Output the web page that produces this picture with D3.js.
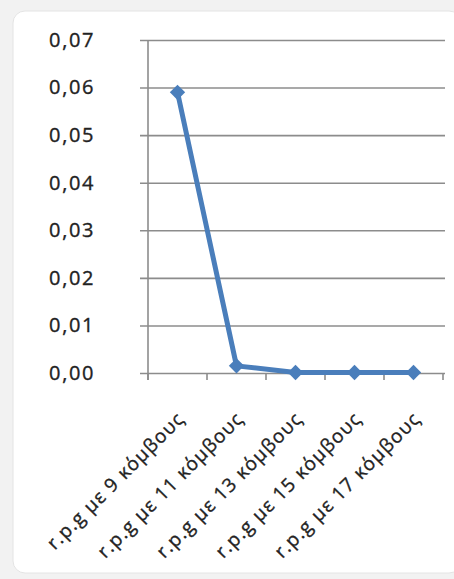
<!DOCTYPE html>
<html>
<head>
<meta charset="utf-8">
<script src="https://cdn.jsdelivr.net/npm/d3@7"></script>
<style>
  html, body { margin: 0; padding: 0; background: #f2f2f2; }
  svg { display: block; }
</style>
</head>
<body>
<svg id="chart" width="454" height="579"></svg>
<script>
// Error values for random planar graphs of increasing node count
const categories = [
  "r.p.g με 9 κόμβους",
  "r.p.g με 11 κόμβους",
  "r.p.g με 13 κόμβους",
  "r.p.g με 15 κόμβους",
  "r.p.g με 17 κόμβους"
];
const values = [0.059, 0.0015, 0.0001, 0.0001, 0.0001];
const yTicks = [0, 0.01, 0.02, 0.03, 0.04, 0.05, 0.06, 0.07];

const svg = d3.select("#chart");

// panel background
svg.append("rect")
  .attr("x", 13).attr("y", 11)
  .attr("width", 448).attr("height", 562)
  .attr("rx", 12)
  .attr("fill", "#ffffff")
  .attr("stroke", "#e4e4e4");

const plot = { left: 148, right: 443, top: 40, bottom: 373 };

const x = d3.scaleBand().domain(categories).range([plot.left, plot.right]);
const y = d3.scaleLinear().domain([0, 0.07]).range([plot.bottom, plot.top]);

const fmt = v => d3.format(".2f")(v).replace(".", ",");

// horizontal gridlines + y labels
const yAxis = d3.axisLeft(y).tickValues(yTicks).tickFormat(fmt)
  .tickSize(-(plot.right - plot.left + 10)).tickPadding(45);
const gy = svg.append("g").attr("transform", `translate(${plot.left - 8},0)`).call(yAxis);
gy.select(".domain").remove();
gy.selectAll(".tick line").attr("stroke", "#8c8c8c").attr("stroke-width", 1.6);
gy.selectAll(".tick text")
  .attr("fill", "#222")
  .attr("stroke", "#222").attr("stroke-width", 0.35)
  .style("font-family", "'Open Sans', sans-serif")
  .style("font-size", "20px")
  .style("letter-spacing", "1.6px");

// vertical axis line
svg.append("line")
  .attr("x1", plot.left).attr("x2", plot.left)
  .attr("y1", plot.top).attr("y2", plot.bottom + 7)
  .attr("stroke", "#8c8c8c").attr("stroke-width", 1.6);

// category ticks on the baseline
const tickXs = categories.map(c => x(c)).concat([plot.right]);
svg.append("g").selectAll("line").data(tickXs).join("line")
  .attr("x1", d => d).attr("x2", d => d)
  .attr("y1", plot.bottom).attr("y2", plot.bottom + 7)
  .attr("stroke", "#8c8c8c").attr("stroke-width", 1.6);

// rotated category labels
svg.append("g").selectAll("text").data(categories).join("text")
  .attr("transform", d => `translate(${x(d) + x.bandwidth() / 2 + 8},${plot.bottom + 47}) rotate(-45)`)
  .attr("text-anchor", "end")
  .attr("fill", "#222")
  .attr("stroke", "#222").attr("stroke-width", 0.35)
  .style("font-family", "'Open Sans', sans-serif")
  .style("font-size", "19px")
  .style("letter-spacing", "1.2px")
  .text(d => d);

// series line
const cx = d => x(d) + x.bandwidth() / 2;
const pts = categories.map((c, i) => [cx(c), y(values[i])]);
svg.append("path")
  .datum(pts)
  .attr("d", d3.line())
  .attr("fill", "none")
  .attr("stroke", "#4a7ebb")
  .attr("stroke-width", 5)
  .attr("stroke-linejoin", "round");

// diamond markers
svg.append("g").selectAll("path").data(pts).join("path")
  .attr("transform", d => `translate(${d[0]},${d[1]})`)
  .attr("d", d3.symbol(d3.symbolDiamond2, 150)())
  .attr("fill", "#4a7ebb");
</script>
</body>
</html>
